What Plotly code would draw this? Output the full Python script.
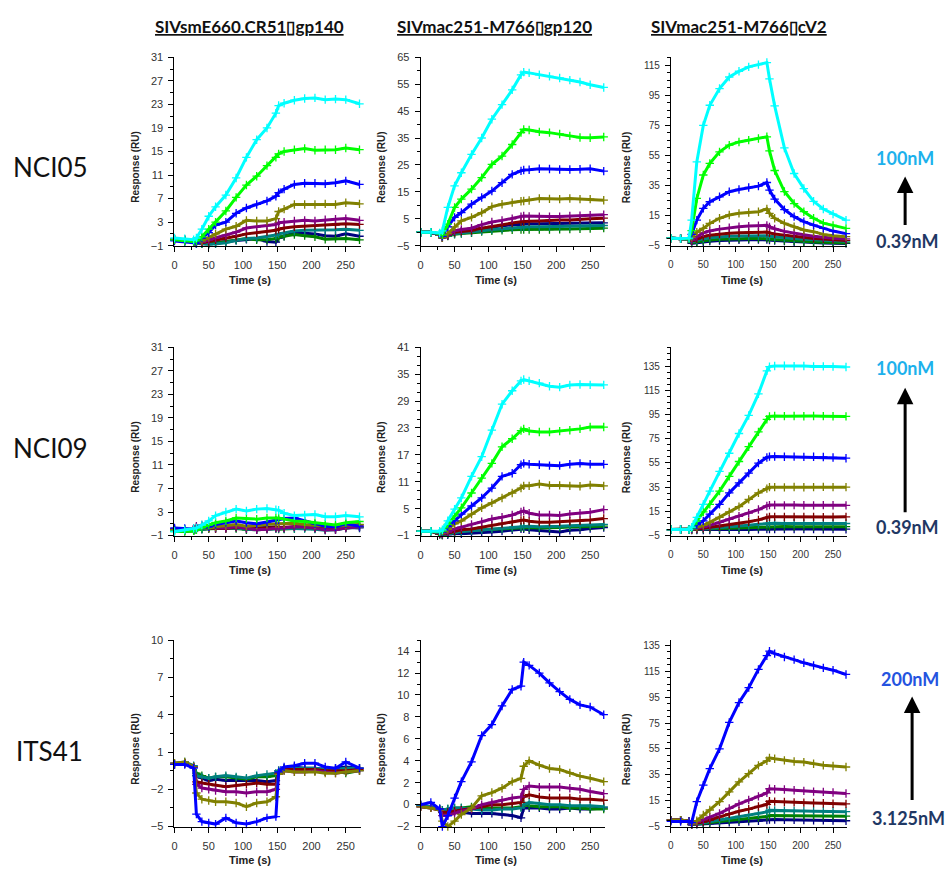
import plotly.graph_objects as go

# ---------------- data ----------------
TIME_S = [0, 15, 28, 32, 40, 50, 60, 75, 90, 105, 120, 135, 148, 152, 160, 175, 190, 205, 220, 235, 250, 270]

ANTIGENS = ["SIVsmE660.CR51\u25afgp140", "SIVmac251-M766\u25afgp120", "SIVmac251-M766\u25afcV2"]
ANTIBODIES = ["NCI05", "NCI09", "ITS41"]
CONC_NCI = ["100nM", "50nM", "25nM", "12.5nM", "6.25nM", "3.125nM", "1.56nM", "0.78nM", "0.39nM"]
CONC_ITS = ["200nM", "100nM", "50nM", "25nM", "12.5nM", "6.25nM", "3.125nM"]
X_TICKS = [0, 50, 100, 150, 200, 250]

# NCI05 x SIVsmE660.CR51 gp140
nci05_gp140_100 = [0.3, 0.2, 0.0, 0.3, 1.8, 4.0, 5.6, 7.6, 10.5, 14.0, 17.0, 19.0, 21.5, 22.8, 23.2, 23.7, 24.0, 24.1, 23.8, 23.9, 23.8, 23.1]
nci05_gp140_50 = [0.0, -0.2, -0.3, -0.2, 0.5, 1.8, 3.0, 4.9, 7.2, 9.3, 10.8, 12.6, 14.0, 14.6, 15.0, 15.3, 15.5, 15.2, 15.3, 15.3, 15.6, 15.3]
nci05_gp140_25 = [-0.2, -0.3, -0.5, -0.6, 0.3, 1.2, 2.5, 3.0, 4.5, 5.4, 6.0, 6.6, 7.4, 8.0, 8.6, 9.4, 9.6, 9.6, 9.5, 9.7, 10.0, 9.4]
nci05_gp140_12 = [0.1, 0.0, -0.3, -0.5, -0.2, 0.4, 1.0, 1.8, 2.3, 3.3, 3.2, 3.2, 3.6, 4.8, 5.2, 6.0, 6.0, 6.0, 6.1, 6.0, 6.3, 6.1]
nci05_gp140_6 = [0.2, 0.0, -0.3, -0.5, -0.4, 0.0, 0.3, 0.8, 1.3, 2.0, 2.2, 2.4, 2.6, 2.9, 3.0, 3.2, 3.3, 3.2, 3.4, 3.5, 3.6, 3.3]
nci05_gp140_3 = [0.1, 0.0, -0.3, -0.5, -0.5, -0.3, 0.0, 0.3, 0.6, 1.0, 1.2, 1.4, 1.6, 1.8, 2.0, 2.2, 2.3, 2.4, 2.5, 2.5, 2.7, 2.6]
nci05_gp140_1 = [0.0, -0.2, -0.4, -0.6, -0.7, -0.8, -0.7, -0.5, -0.1, 0.2, 0.3, 0.5, 0.8, 1.0, 1.2, 1.5, 1.6, 1.6, 1.6, 1.7, 1.8, 1.6]
nci05_gp140_07 = [0.0, -0.2, -0.4, -0.6, -0.7, -0.7, -0.6, -0.3, 0.0, 0.2, 0.0, 0.0, 0.2, 0.4, 0.6, 0.9, 0.7, 0.5, 0.1, 0.2, 0.2, 0.0]
nci05_gp140_03 = [0.0, -0.2, -0.3, -0.6, -0.6, -0.6, -0.5, -0.3, -0.1, 0.1, 0.2, -0.3, -0.4, 0.3, 0.6, 1.2, 1.1, 1.0, 0.7, 0.6, 1.0, 0.6]

# NCI05 x SIVmac251-M766 gp120
nci05_gp120_100 = [0.0, 0.0, -0.3, 0.5, 9.2, 17.2, 22.1, 28.9, 35.0, 42.0, 47.4, 52.9, 58.5, 59.5, 59.2, 58.5, 57.9, 57.3, 56.5, 55.8, 54.8, 53.8]
nci05_gp120_50 = [0.0, 0.0, -0.5, -1.0, 3.0, 9.2, 12.3, 16.0, 20.3, 25.2, 28.3, 32.6, 37.0, 38.2, 38.0, 37.3, 37.0, 36.5, 35.8, 35.2, 35.1, 35.4]
nci05_gp120_25 = [0.0, 0.0, -0.8, -1.5, 2.0, 5.5, 7.3, 10.4, 12.9, 15.3, 18.4, 21.5, 22.8, 23.1, 23.2, 23.6, 23.5, 23.3, 23.3, 23.4, 23.6, 22.7]
nci05_gp120_12 = [0.0, 0.0, -1.0, -2.0, -0.5, 2.0, 4.2, 5.5, 7.3, 9.5, 10.4, 11.0, 11.5, 11.6, 11.8, 12.5, 12.4, 12.3, 12.5, 12.3, 12.3, 11.9]
nci05_gp120_6 = [0.0, 0.0, -1.0, -2.0, -1.0, 0.5, 1.0, 1.5, 2.8, 3.8, 4.4, 5.0, 5.8, 6.0, 5.9, 5.8, 5.8, 5.8, 6.0, 6.1, 6.3, 6.5]
nci05_gp120_3 = [0.0, 0.0, -1.0, -2.0, -1.2, 0.0, 0.3, 0.6, 1.5, 2.2, 2.8, 3.4, 3.9, 4.0, 4.1, 4.2, 4.4, 4.5, 4.5, 4.8, 5.0, 5.2]
nci05_gp120_1 = [0.0, 0.0, -1.0, -2.0, -1.3, -0.5, -0.3, 0.0, 0.5, 1.0, 1.3, 1.6, 2.0, 2.0, 2.0, 2.0, 2.0, 2.1, 2.2, 2.3, 2.4, 2.5]
nci05_gp120_07 = [0.0, 0.0, -1.0, -2.0, -1.4, -0.8, -0.5, -0.2, 0.2, 0.5, 0.7, 0.9, 1.0, 1.0, 1.0, 1.0, 1.0, 1.1, 1.2, 1.3, 1.4, 1.5]
nci05_gp120_03 = [0.0, 0.0, -1.0, -2.0, -1.2, -0.3, 0.3, 0.8, 1.5, 2.0, 2.4, 2.7, 3.0, 3.0, 3.1, 3.1, 3.2, 3.2, 3.3, 3.4, 3.5, 3.5]

# NCI05 x SIVmac251-M766 cV2
nci05_cv2_100 = [0.0, -0.3, 0.0, 12.0, 50.8, 75.0, 88.4, 99.5, 107.2, 111.0, 113.9, 115.4, 116.8, 106.0, 88.0, 60.0, 43.0, 33.0, 24.5, 19.4, 16.0, 12.0]
nci05_cv2_50 = [0.0, -0.3, -0.5, 5.0, 26.4, 42.0, 49.7, 57.4, 61.9, 64.0, 65.2, 66.3, 67.4, 58.0, 45.0, 31.0, 23.0, 17.6, 13.2, 10.0, 8.5, 6.5]
nci05_cv2_25 = [0.0, -0.3, -0.5, 2.5, 12.0, 19.8, 24.2, 27.5, 30.9, 32.4, 33.7, 34.6, 37.0, 32.0, 26.0, 19.0, 14.3, 11.0, 8.7, 6.5, 4.7, 3.0]
nci05_cv2_12 = [0.0, -0.3, -0.5, 0.5, 4.0, 6.5, 9.8, 13.2, 15.4, 16.5, 17.1, 17.6, 19.5, 16.5, 13.2, 9.8, 7.6, 5.4, 4.3, 2.5, 1.6, 1.0]
nci05_cv2_6 = [0.0, -0.3, -0.5, -1.5, 1.0, 3.5, 4.8, 6.0, 7.0, 7.6, 8.0, 8.2, 8.5, 7.5, 6.2, 4.5, 3.2, 2.3, 1.3, 0.5, 0.0, -0.5]
nci05_cv2_3 = [0.0, -0.3, -0.5, -2.0, -0.5, 1.0, 2.0, 2.8, 3.3, 3.6, 3.8, 4.0, 4.0, 3.5, 2.8, 2.0, 1.2, 0.5, -0.2, -0.6, -1.0, -1.5]
nci05_cv2_1 = [0.0, -0.3, -0.5, -2.5, -1.5, -0.5, 0.2, 0.8, 1.2, 1.4, 1.5, 1.5, 1.6, 1.2, 0.8, 0.2, -0.3, -0.8, -1.2, -1.5, -1.8, -2.0]
nci05_cv2_07 = [0.0, -0.3, -0.5, -3.0, -2.5, -1.8, -1.2, -0.8, -0.5, -0.3, -0.2, -0.2, -0.1, -0.5, -0.9, -1.4, -1.8, -2.2, -2.5, -2.8, -3.0, -3.2]
nci05_cv2_03 = [0.0, -0.3, -0.5, -3.5, -3.0, -2.5, -2.0, -1.6, -1.3, -1.1, -1.0, -1.0, -0.9, -1.2, -1.6, -2.0, -2.4, -2.8, -3.0, -3.2, -3.4, -3.5]

# NCI09 x SIVsmE660.CR51 gp140
nci09_gp140_100 = [-0.3, 0.0, 0.2, 0.3, 0.8, 1.5, 2.4, 3.0, 3.5, 3.2, 3.5, 3.6, 3.4, 3.3, 2.8, 2.4, 2.5, 2.6, 2.2, 2.2, 2.4, 2.2]
nci09_gp140_50 = [-0.3, -0.2, -0.2, 0.0, 0.3, 0.8, 1.2, 1.5, 2.0, 1.9, 1.8, 2.0, 2.0, 2.0, 1.8, 1.5, 1.4, 1.2, 1.0, 0.8, 1.2, 1.4]
nci09_gp140_25 = [0.3, 0.2, 0.0, 0.1, 0.3, 0.5, 0.9, 1.2, 1.5, 1.2, 1.0, 1.3, 1.6, 1.7, 1.9, 2.0, 1.5, 1.0, 0.6, 0.5, 1.0, 0.6]
nci09_gp140_12 = [0.0, -0.1, 0.0, 0.2, 0.3, 0.3, 0.5, 0.7, 0.9, 0.6, 0.8, 0.9, 1.0, 1.0, 1.0, 1.1, 0.9, 0.8, 0.6, 0.5, 0.8, 0.9]
nci09_gp140_6 = [0.2, 0.0, 0.2, 0.6, 0.8, 0.4, 0.3, 0.3, 0.5, 0.2, 0.0, 0.1, 0.3, 0.3, 0.3, 0.5, 0.5, 0.3, 0.0, 0.0, 0.3, 0.5]
nci09_gp140_3 = [0.1, 0.0, 0.1, 0.4, 0.6, 0.3, 0.2, 0.2, 0.4, 0.3, 0.2, 0.3, 0.4, 0.4, 0.4, 0.5, 0.5, 0.4, 0.2, 0.3, 0.5, 0.8]
nci09_gp140_1 = [0.0, -0.2, -0.1, 0.0, 0.1, 0.2, 0.3, 0.2, 0.3, 0.1, 0.0, 0.1, 0.2, 0.2, 0.2, 0.2, 0.2, 0.1, -0.1, 0.0, 0.3, 0.4]
nci09_gp140_07 = [-0.2, -0.3, -0.2, 0.0, 0.1, 0.2, 0.2, 0.3, 0.2, 0.0, 0.0, 0.1, 0.2, 0.1, 0.1, 0.2, 0.3, 0.2, 0.0, 0.1, 0.3, 0.5]
nci09_gp140_03 = [0.2, 0.0, -0.1, 0.0, 0.1, 0.3, 0.4, 0.5, 0.6, 0.4, 0.3, 0.4, 0.5, 0.4, 0.3, 0.4, 0.4, 0.3, 0.2, 0.2, 0.4, 0.3]

# NCI09 x SIVmac251-M766 gp120
nci09_gp120_100 = [0.0, 0.0, 0.0, 0.3, 2.3, 4.9, 7.4, 12.2, 16.6, 22.5, 28.3, 31.3, 33.5, 33.8, 33.5, 33.0, 32.3, 32.1, 32.6, 32.7, 32.6, 32.6]
nci09_gp120_50 = [0.0, 0.0, -0.2, 0.0, 1.5, 3.4, 5.2, 8.5, 11.8, 15.1, 18.8, 20.6, 22.4, 22.8, 22.3, 22.1, 22.1, 22.3, 22.5, 22.8, 23.2, 23.2]
nci09_gp120_25 = [0.0, 0.0, -0.3, -0.2, 1.0, 2.3, 3.8, 5.6, 7.4, 9.6, 12.2, 12.9, 14.8, 15.1, 14.9, 14.8, 14.6, 14.6, 14.9, 15.1, 14.9, 14.9]
nci09_gp120_12 = [0.0, 0.0, -0.4, -0.4, 0.4, 1.6, 2.3, 3.8, 5.2, 6.3, 7.4, 8.5, 9.6, 10.1, 10.1, 10.5, 10.2, 10.2, 10.1, 10.0, 10.3, 10.1]
nci09_gp120_6 = [0.0, 0.0, -0.5, -0.6, -0.2, 0.5, 0.9, 1.5, 2.1, 2.7, 3.1, 3.6, 4.3, 4.5, 4.0, 3.6, 3.6, 3.5, 3.8, 4.0, 4.2, 4.8]
nci09_gp120_3 = [0.0, 0.0, -0.6, -0.7, -0.4, 0.0, 0.3, 0.5, 0.9, 1.3, 1.7, 2.1, 2.4, 2.5, 2.2, 2.0, 2.0, 2.1, 2.2, 2.3, 2.5, 2.8]
nci09_gp120_1 = [0.0, 0.0, -0.6, -0.8, -0.6, -0.3, -0.1, 0.1, 0.3, 0.5, 0.6, 0.8, 1.0, 1.1, 1.1, 1.0, 1.0, 1.1, 1.2, 1.3, 1.4, 1.5]
nci09_gp120_07 = [0.0, 0.0, -0.7, -0.9, -0.6, -0.3, 0.0, 0.2, 0.3, 0.5, 0.6, 0.7, 0.8, 0.8, 0.8, 0.7, 0.7, 0.8, 0.9, 1.0, 1.0, 1.1]
nci09_gp120_03 = [0.0, 0.0, -0.7, -0.9, -0.8, -0.6, -0.6, -0.5, -0.3, -0.2, 0.0, 0.3, 0.5, 0.5, 0.3, 0.1, 0.0, -0.2, 0.2, 0.3, 0.6, 0.8]

# NCI09 x SIVmac251-M766 cV2
nci09_cv2_100 = [0.0, 0.0, 0.0, 2.0, 10.0, 20.8, 31.7, 48.0, 63.0, 79.3, 94.2, 112.0, 131.0, 134.5, 135.0, 135.2, 134.8, 135.0, 134.6, 134.7, 134.5, 134.2]
nci09_cv2_50 = [0.0, 0.0, 0.0, 1.5, 7.0, 14.6, 20.8, 31.7, 43.9, 56.2, 68.4, 80.6, 91.0, 93.4, 93.7, 93.6, 93.8, 93.5, 93.7, 93.6, 93.5, 93.4]
nci09_cv2_25 = [0.0, 0.0, 0.0, 0.8, 4.0, 7.2, 12.7, 20.8, 30.3, 38.5, 46.6, 54.8, 59.5, 60.2, 60.3, 60.1, 60.2, 60.0, 60.1, 59.9, 59.5, 58.9]
nci09_cv2_12 = [0.0, 0.0, 0.0, 0.3, 1.8, 3.5, 6.0, 10.0, 14.6, 18.9, 24.9, 30.3, 33.8, 35.0, 35.0, 34.8, 35.1, 34.9, 35.0, 35.2, 35.0, 35.0]
nci09_cv2_6 = [0.0, 0.0, 0.0, 0.2, 1.0, 2.0, 3.5, 6.0, 8.5, 11.0, 13.5, 16.5, 19.5, 20.2, 20.3, 20.0, 20.2, 20.1, 20.0, 20.2, 20.1, 20.0]
nci09_cv2_3 = [0.0, 0.0, 0.0, 0.1, 0.5, 1.0, 1.8, 2.5, 4.0, 5.0, 6.5, 8.0, 9.8, 10.5, 10.5, 10.4, 10.5, 10.4, 10.5, 10.3, 10.4, 10.5]
nci09_cv2_1 = [0.0, 0.0, 0.0, 0.0, 0.3, 0.6, 1.0, 1.5, 2.2, 2.8, 3.5, 4.3, 5.0, 5.2, 5.2, 5.1, 5.2, 5.1, 5.2, 5.0, 5.1, 5.0]
nci09_cv2_07 = [0.0, 0.0, 0.0, 0.0, 0.2, 0.4, 0.6, 0.8, 1.1, 1.4, 1.7, 2.0, 2.4, 2.5, 2.5, 2.5, 2.4, 2.5, 2.5, 2.4, 2.5, 2.4]
nci09_cv2_03 = [0.0, 0.0, 0.0, -0.5, -0.5, -0.4, -0.4, -0.3, -0.2, -0.1, 0.0, 0.2, 0.4, 0.5, 0.5, 0.4, 0.5, 0.4, 0.4, 0.3, 0.4, 0.3]

# ITS41 x SIVsmE660.CR51 gp140
its41_gp140_200 = [0.0, 0.0, -0.3, -4.0, -4.6, -4.7, -4.8, -4.3, -4.7, -4.8, -4.6, -4.3, -4.2, -0.6, -0.2, -0.1, 0.1, 0.1, -0.2, -0.3, 0.2, -0.3]
its41_gp140_100 = [0.1, 0.2, -0.2, -2.3, -2.8, -2.9, -3.0, -3.0, -3.1, -3.4, -3.1, -3.0, -2.6, -0.8, -0.5, -0.6, -0.6, -0.6, -0.7, -0.7, -0.6, -0.5]
its41_gp140_50 = [0.1, 0.1, -0.2, -1.6, -1.9, -2.0, -2.1, -2.2, -2.2, -2.3, -2.2, -2.2, -2.0, -0.8, -0.5, -0.6, -0.6, -0.5, -0.6, -0.7, -0.6, -0.5]
its41_gp140_25 = [0.0, 0.1, -0.2, -1.4, -1.5, -1.6, -1.7, -1.8, -1.7, -1.6, -1.5, -1.6, -1.6, -0.7, -0.4, -0.4, -0.4, -0.4, -0.5, -0.5, -0.5, -0.4]
its41_gp140_12 = [0.1, 0.2, -0.1, -0.9, -1.0, -1.1, -1.0, -0.9, -1.0, -1.1, -0.9, -0.8, -0.7, -0.5, -0.3, -0.3, -0.3, -0.3, -0.4, -0.4, -0.3, -0.3]
its41_gp140_6 = [0.0, 0.1, -0.2, -0.7, -0.9, -1.1, -1.0, -1.0, -1.1, -1.2, -1.0, -1.0, -0.9, -0.6, -0.4, -0.4, -0.4, -0.5, -0.6, -0.5, -0.7, -0.5]
its41_gp140_3 = [0.0, 0.1, -0.2, -0.9, -1.1, -1.3, -1.2, -1.3, -1.3, -1.3, -1.3, -1.4, -1.3, -0.5, -0.3, -0.2, -0.3, -0.3, -0.4, -0.3, -0.2, -0.3]

# ITS41 x SIVmac251-M766 gp120
its41_gp120_200 = [0.0, 0.2, -0.4, -2.0, -1.0, 0.6, 2.1, 3.9, 6.3, 7.3, 9.0, 10.5, 10.8, 13.0, 12.7, 12.0, 11.1, 10.3, 9.6, 9.1, 8.9, 8.2]
its41_gp120_100 = [-0.2, -0.3, -0.5, -1.5, -2.0, -1.5, -0.9, -0.3, 0.8, 1.1, 1.5, 2.1, 2.4, 3.5, 4.0, 3.6, 3.3, 3.2, 2.9, 2.6, 2.4, 2.1]
its41_gp120_50 = [-0.2, -0.3, -0.5, -1.0, -1.0, -0.8, -0.6, -0.4, 0.0, 0.2, 0.4, 0.6, 0.7, 1.4, 1.7, 1.6, 1.6, 1.6, 1.5, 1.4, 1.2, 1.0]
its41_gp120_25 = [-0.2, -0.3, -0.5, -0.7, -0.7, -0.6, -0.5, -0.4, -0.2, 0.0, 0.0, 0.1, 0.2, 0.7, 0.9, 0.7, 0.6, 0.6, 0.6, 0.5, 0.5, 0.4]
its41_gp120_12 = [-0.1, -0.2, -0.4, -0.5, -0.4, -0.3, -0.3, -0.4, -0.5, -0.5, -0.4, -0.4, -0.3, 0.0, 0.2, 0.1, 0.0, 0.0, -0.1, -0.1, -0.1, -0.2]
its41_gp120_6 = [-0.1, -0.2, -0.4, -0.5, -0.4, -0.3, -0.3, -0.2, -0.3, -0.3, -0.3, -0.3, -0.2, 0.0, -0.1, -0.2, -0.2, -0.2, -0.3, -0.3, -0.4, -0.4]
its41_gp120_3 = [0.0, -0.2, -0.4, -0.7, -0.7, -0.6, -0.7, -0.8, -0.8, -0.8, -0.9, -1.0, -1.2, -0.3, -0.3, -0.3, -0.4, -0.4, -0.3, -0.4, -0.4, -0.3]

# ITS41 x SIVmac251-M766 cV2
its41_cv2_200 = [-1.0, -1.2, -1.0, -2.0, 14.2, 27.0, 39.7, 55.0, 75.5, 90.8, 102.3, 116.4, 127.0, 130.5, 128.6, 126.0, 124.0, 121.5, 119.4, 117.6, 115.8, 112.5]
its41_cv2_100 = [0.0, 0.0, -1.0, -3.0, -0.5, 3.9, 7.8, 14.2, 21.8, 29.5, 35.9, 42.3, 45.8, 48.1, 47.4, 46.1, 45.3, 44.8, 43.5, 42.3, 41.8, 41.0]
its41_cv2_50 = [0.0, 0.0, -1.0, -3.2, -1.5, 0.1, 2.3, 5.2, 9.0, 12.5, 15.5, 18.3, 21.0, 24.2, 23.8, 23.6, 23.0, 22.6, 22.0, 21.8, 21.3, 20.5]
its41_cv2_25 = [0.0, 0.0, -1.0, -3.3, -2.5, -1.5, 0.0, 2.5, 4.8, 6.8, 8.5, 10.5, 12.2, 14.5, 14.3, 14.0, 13.7, 13.5, 13.2, 13.0, 12.6, 12.5]
its41_cv2_12 = [0.0, 0.0, -1.0, -3.4, -2.8, -2.0, -1.2, 0.0, 1.5, 2.8, 4.0, 5.2, 6.3, 7.5, 7.5, 7.3, 7.1, 7.0, 6.9, 6.8, 6.6, 6.5]
its41_cv2_6 = [0.0, 0.0, -1.0, -3.5, -3.0, -2.5, -1.8, -1.0, -0.2, 0.5, 1.2, 2.0, 2.8, 3.5, 3.5, 3.5, 3.4, 3.4, 3.3, 3.2, 3.1, 3.0]
its41_cv2_3 = [0.0, 0.0, -1.0, -3.5, -3.3, -3.0, -2.7, -2.3, -1.8, -1.4, -1.0, -0.5, 0.0, 0.5, 0.4, 0.3, 0.2, 0.0, -0.1, -0.2, -0.4, -0.5]

# ---------------- styling / layout ----------------
W, H = 945, 873
COL_NCI = ["#00FFFF", "#00FF00", "#0000FF", "#808000", "#800080", "#800000", "#008080", "#008000", "#000080"]
COL_ITS = ["#0000FF", "#808000", "#800080", "#800000", "#008080", "#008000", "#000080"]


def px_x(v):
    return v / W


def px_y(v):
    return 1 - v / H


# pixel boxes
COLS = [(172, 359), (419, 604), (670, 847)]
ROWS = [(52, 243), (346, 537), (643, 832)]
X_MAX = 272

panels = [
    (0, 0, [nci05_gp140_100, nci05_gp140_50, nci05_gp140_25, nci05_gp140_12, nci05_gp140_6, nci05_gp140_3, nci05_gp140_1, nci05_gp140_07, nci05_gp140_03], [-1, 31], 4, 2),
    (0, 1, [nci05_gp120_100, nci05_gp120_50, nci05_gp120_25, nci05_gp120_12, nci05_gp120_6, nci05_gp120_3, nci05_gp120_1, nci05_gp120_07, nci05_gp120_03], [-5, 65], 10, 5),
    (0, 2, [nci05_cv2_100, nci05_cv2_50, nci05_cv2_25, nci05_cv2_12, nci05_cv2_6, nci05_cv2_3, nci05_cv2_1, nci05_cv2_07, nci05_cv2_03], [-5, 120.3], 20, 5),
    (1, 0, [nci09_gp140_100, nci09_gp140_50, nci09_gp140_25, nci09_gp140_12, nci09_gp140_6, nci09_gp140_3, nci09_gp140_1, nci09_gp140_07, nci09_gp140_03], [-1, 31], 4, 2),
    (1, 1, [nci09_gp120_100, nci09_gp120_50, nci09_gp120_25, nci09_gp120_12, nci09_gp120_6, nci09_gp120_3, nci09_gp120_1, nci09_gp120_07, nci09_gp120_03], [-1, 41], 6, 2),
    (1, 2, [nci09_cv2_100, nci09_cv2_50, nci09_cv2_25, nci09_cv2_12, nci09_cv2_6, nci09_cv2_3, nci09_cv2_1, nci09_cv2_07, nci09_cv2_03], [-5, 150.5], 20, 5),
    (2, 0, [its41_gp140_200, its41_gp140_100, its41_gp140_50, its41_gp140_25, its41_gp140_12, its41_gp140_6, its41_gp140_3], [-5, 10], 3, 1.5),
    (2, 1, [its41_gp120_200, its41_gp120_100, its41_gp120_50, its41_gp120_25, its41_gp120_12, its41_gp120_6, its41_gp120_3], [-2, 15], 2, 1),
    (2, 2, [its41_cv2_200, its41_cv2_100, its41_cv2_50, its41_cv2_25, its41_cv2_12, its41_cv2_6, its41_cv2_3], [-5, 139], 20, 5),
]

fig = go.Figure()
layout = dict(
    width=W, height=H, margin=dict(l=0, r=0, t=0, b=0),
    paper_bgcolor="white", plot_bgcolor="white", showlegend=False,
    font=dict(family="Liberation Sans, Arial, sans-serif", color="#222"),
)
annotations = []
TICK_FONT = dict(family="Liberation Sans, Arial, sans-serif", size=11, color="#333")

for i, (r, c, series, yr, dt, mdt) in enumerate(panels):
    n = i + 1
    xa = "x" if n == 1 else f"x{n}"
    ya = "y" if n == 1 else f"y{n}"
    colors = COL_ITS if r == 2 else COL_NCI
    names = CONC_ITS if r == 2 else CONC_NCI
    # draw lowest concentration first so the highest sits on top
    for vals, col, nm in reversed(list(zip(series, colors, names))):
        fig.add_trace(go.Scatter(
            x=TIME_S, y=vals, name=nm, mode="lines+markers",
            line=dict(color=col, width=3),
            marker=dict(symbol="cross-thin", size=6, line=dict(color=col, width=1.3)),
            xaxis=xa, yaxis=ya, cliponaxis=False,
        ))
    l, rr = COLS[c]
    t, b = ROWS[r]
    fs = 10 if c == 2 else 11
    layout["xaxis" if n == 1 else f"xaxis{n}"] = dict(
        domain=[px_x(l), px_x(rr)], range=[0, X_MAX], anchor=ya,
        tickvals=X_TICKS, ticks="outside", ticklen=5, tickwidth=1, tickcolor="black",
        minor=dict(dtick=25, tick0=0, ticks="outside", ticklen=3, tickcolor="black"),
        showline=True, linecolor="black", linewidth=1, showgrid=False, zeroline=False,
        tickfont=dict(TICK_FONT, size=fs), ticklabelstandoff=4,
    )
    layout["yaxis" if n == 1 else f"yaxis{n}"] = dict(
        domain=[px_y(b), px_y(t)], range=yr, anchor=xa,
        tick0=yr[0], dtick=dt, ticks="outside", ticklen=5, tickwidth=1, tickcolor="black",
        minor=dict(dtick=mdt, tick0=yr[0], ticks="outside", ticklen=3, tickcolor="black"),
        showline=True, linecolor="black", linewidth=1, showgrid=False, zeroline=False,
        tickfont=dict(TICK_FONT, size=fs), ticklabelstandoff=3,
    )
    ylab_x = [133, 379, 625][c]
    annotations.append(dict(
        text="<b>Response (RU)</b>", x=px_x(ylab_x), y=px_y((t + b) / 2 + 16),
        xref="paper", yref="paper", showarrow=False, textangle=-90,
        font=dict(family="Liberation Sans, Arial, sans-serif", size=10, color="#222"),
        xanchor="center", yanchor="middle",
    ))
    xlab_x = [248, 495, 741][c]
    xlab_y = [278, 572, 866][r]
    annotations.append(dict(
        text="<b>Time (s)</b>", x=px_x(xlab_x), y=px_y(xlab_y),
        xref="paper", yref="paper", showarrow=False,
        font=dict(family="Liberation Sans, Arial, sans-serif", size=11, color="#222"),
        xanchor="center", yanchor="middle",
    ))

# column titles
for cx, txt in zip([247, 493, 738], ANTIGENS):
    annotations.append(dict(
        text=f"<b><u>{txt}</u></b>", x=px_x(cx), y=px_y(21), xref="paper", yref="paper",
        showarrow=False, xanchor="center", yanchor="middle",
        font=dict(family="Lato, sans-serif", size=17, color="#111"),
    ))

# row labels
for (lx, ly), txt in zip([(48, 163), (48, 448), (47, 755)], ANTIBODIES):
    annotations.append(dict(
        text=txt, x=px_x(lx), y=px_y(ly), xref="paper", yref="paper",
        showarrow=False, xanchor="center", yanchor="middle",
        font=dict(family="Lato, sans-serif", size=26, color="#111"),
    ))

# concentration labels and arrows
conc_labels = [
    (905, 154, CONC_NCI[0], "#1DB1EC"), (907, 238, CONC_NCI[-1], "#1F3864"),
    (905, 367, CONC_NCI[0], "#1DB1EC"), (907, 528, CONC_NCI[-1], "#1F3864"),
    (910, 682, CONC_ITS[0], "#2453E0"), (908, 823, CONC_ITS[-1], "#1F3864"),
]
for lx, ly, txt, col in conc_labels:
    annotations.append(dict(
        text=f"<b>{txt}</b>", x=px_x(lx), y=px_y(ly), xref="paper", yref="paper",
        showarrow=False, xanchor="center", yanchor="middle",
        font=dict(family="Lato, sans-serif", size=18, color=col),
    ))
for ax_x, head_y, tail_y in [(905, 173, 223), (905, 387, 513), (912, 700, 805)]:
    annotations.append(dict(
        text="", x=px_x(ax_x), y=px_y(head_y), xref="paper", yref="paper",
        ax=0, ay=tail_y - head_y, axref="pixel", ayref="pixel",
        showarrow=True, arrowhead=2, arrowsize=1.1, arrowwidth=3, arrowcolor="black",
    ))

layout["annotations"] = annotations
fig.update_layout(**layout)
fig.write_html(
    "out.html",
    config={"displayModeBar": False},
    post_script="document.body.style.margin='0px';document.body.style.overflow='hidden';",
)
